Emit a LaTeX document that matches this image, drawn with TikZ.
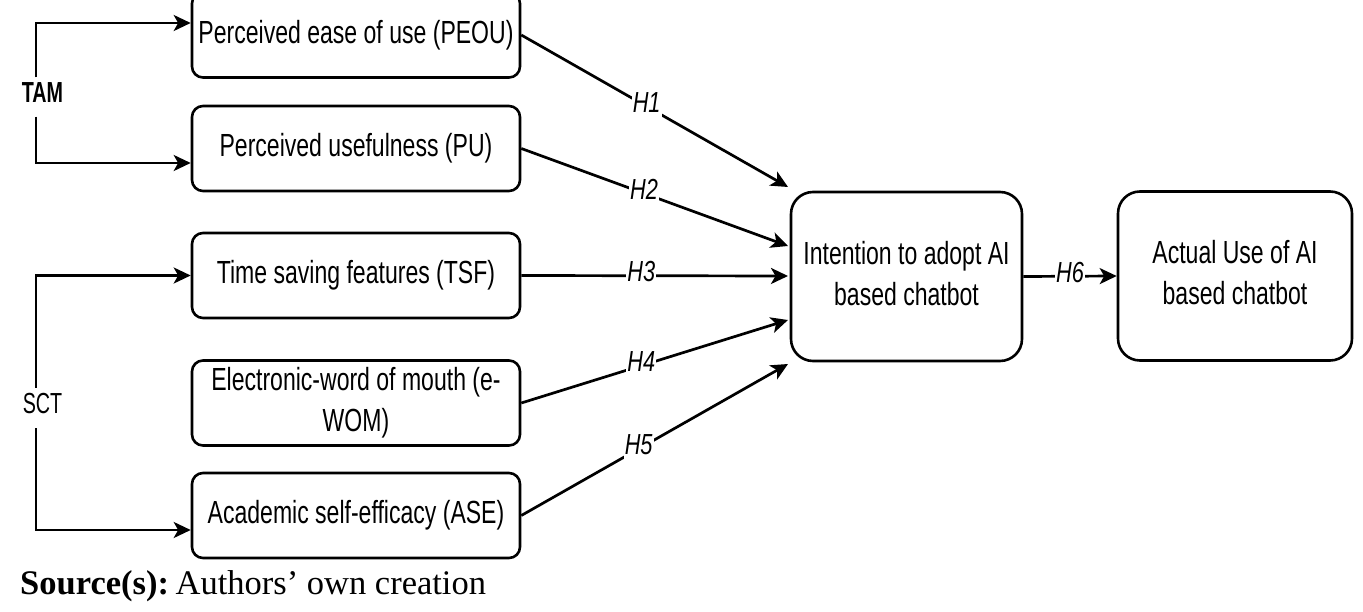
\documentclass[tikz,border=0pt]{standalone}
\usepackage{fontspec}
\setmainfont{Liberation Sans}
\newfontfamily\serifsrc{Liberation Serif}
\usetikzlibrary{arrows.meta}
\newcommand{\sq}[2][0.72]{\scalebox{#1}[1]{\begin{tabular}{@{}c@{}}#2\end{tabular}}}
\begin{document}
\begin{tikzpicture}[x=1pt,y=-1pt,
  box/.style={draw, line width=2.6pt, rounded corners=11pt, inner sep=0pt, font=\fontsize{32}{41}\selectfont},
  lbox/.style={box, minimum width=328pt, minimum height=85pt},
  bbox/.style={box, rounded corners=22pt, minimum height=169pt},
  arr/.style={line width=2.7pt, -{Stealth[length=17pt,width=16pt,inset=4.5pt]}},
  hl/.style={fill=white, inner sep=1pt, font=\fontsize{29}{29}\selectfont\itshape},
  side/.style={inner sep=0pt, minimum height=39pt, font=\fontsize{29}{29}\selectfont}]
\useasboundingbox (0,0) rectangle (1363,612);

% left boxes
\node[lbox] (peou) at (356,35)    {\sq{Perceived ease of use (PEOU)}};
\node[lbox] (pu)   at (356,148.5) {\sq{Perceived usefulness (PU)}};
\node[lbox] (tsf)  at (356,275.5) {\sq{Time saving features (TSF)}};
\node[lbox] (ewom) at (356,403)   {\sq{Electronic-word of mouth (e-\\WOM)}};
\node[lbox] (ase)  at (356,515.5) {\sq{Academic self-efficacy (ASE)}};

% right boxes
\node[bbox, minimum width=231pt] (int) at (906.5,276.5) {\sq{Intention to adopt AI\\based chatbot}};
\node[bbox, minimum width=234pt] (act) at (1235,276)   {\sq{Actual Use of AI\\based chatbot}};

% theory labels
\node[side, font=\fontsize{29}{29}\selectfont\bfseries] (tam) at (42.5,97) {\sq[0.68]{TAM}};
\node[side, minimum height=40pt] (sct) at (42.5,408) {\sq[0.68]{SCT}};

\draw[arr] ([xshift=-6.5pt]tam.north) |- ([yshift=12pt]peou.west);
\draw[arr] ([xshift=-6.5pt]tam.south) |- ([yshift=-14.5pt]pu.west);
\draw[arr] ([xshift=-6.5pt]sct.north) |- (tsf.west);
\draw[arr] ([xshift=-6.5pt]sct.south) |- ([yshift=-14.5pt]ase.west);

% arrow ends at intention box
\coordinate (e1) at (788,187);
\coordinate (e2) at (788,246);
\coordinate (e3) at (788,276);
\coordinate (e4) at (788,320);
\coordinate (e5) at (788,364);

\draw[arr] (peou.east) -- node[hl,pos=0.47] {\sq[0.75]{H1}} (e1);
\draw[arr] (pu.east)   -- node[hl,pos=0.46] {\sq[0.75]{H2}} (e2);
\draw[arr] (tsf.east)  -- node[hl,pos=0.45] {\sq[0.75]{H3}} (e3);
\draw[arr] (ewom.east) -- node[hl,pos=0.45] {\sq[0.75]{H4}} (e4);
\draw[arr] (ase.east)  -- node[hl,pos=0.44] {\sq[0.75]{H5}} (e5);
\draw[arr] (int.east)  -- node[hl,pos=0.5]  {\sq[0.75]{H6}} (act.west);

% source
\node[anchor=west, inner sep=0pt, font=\serifsrc\fontsize{34.5}{36}\selectfont] (src) at (20,586) {\textbf{Source(s):}\kern-2pt\ Authors’ own creation};
\end{tikzpicture}
\end{document}
